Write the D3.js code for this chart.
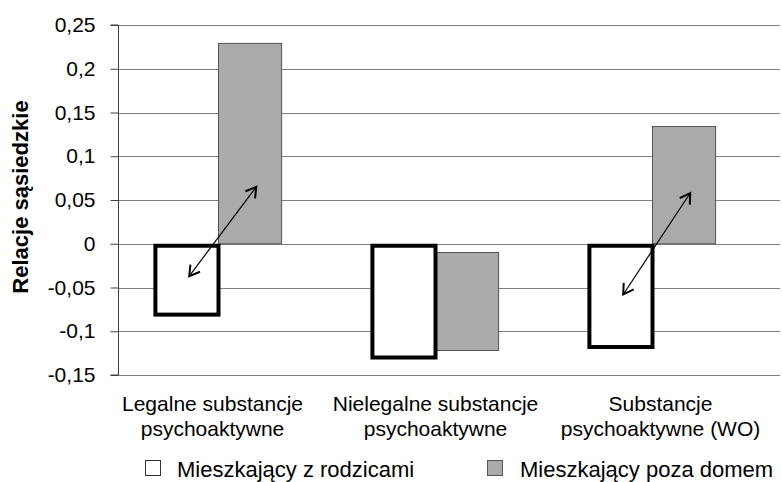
<!DOCTYPE html>
<html>
<head>
<meta charset="utf-8">
<script src="https://cdn.jsdelivr.net/npm/d3@7"></script>
<style>
  body { margin: 0; background: #fff; }
  svg { display: block; font-family: Arial, "Liberation Sans", sans-serif; }
</style>
</head>
<body>
<svg id="chart" width="782" height="482"></svg>
<script>
const categories = [
  ["Legalne substancje", "psychoaktywne"],
  ["Nielegalne substancje", "psychoaktywne"],
  ["Substancje", "psychoaktywne (WO)"]
];
const seriesNames = ["Mieszkający z rodzicami", "Mieszkający poza domem"];
const withParents = [-0.081, -0.130, -0.118];
const awayBase = [0, -0.01, 0];
const awayValues = [0.229, -0.122, 0.134];
const yTicks = [-0.15, -0.1, -0.05, 0, 0.05, 0.1, 0.15, 0.2, 0.25];
const yTickLabels = ["-0,15", "-0,1", "-0,05", "0", "0,05", "0,1", "0,15", "0,2", "0,25"];
const arrows = [
  { cat: 0, from: -0.037, to: 0.065 },
  { cat: 2, from: -0.058, to: 0.058 }
];

const svg = d3.select("#chart");
const axisX = 118, plotRight = 780;

const y = d3.scaleLinear().domain([-0.15, 0.25]).range([375, 25]);
const x0 = d3.scaleBand().domain(d3.range(categories.length)).range([110, 761])
  .paddingInner(0.4).paddingOuter(0.2);
const x1 = d3.scaleBand().domain(["w", "g"]).range([0, x0.bandwidth()]).padding(0);

// gridlines
svg.append("g").selectAll("line").data(yTicks).join("line")
  .attr("x1", axisX).attr("x2", plotRight)
  .attr("y1", d => Math.round(y(d)) + 0.5).attr("y2", d => Math.round(y(d)) + 0.5)
  .attr("stroke", "#808080").attr("stroke-width", 1);

// y axis
const yAxis = d3.axisLeft(y).tickValues(yTicks).tickSize(8)
  .tickFormat((d, i) => yTickLabels[i]);
const gy = svg.append("g").attr("transform", `translate(${axisX + 0.5},0)`).call(yAxis);
gy.select(".domain").attr("stroke", "#404040").attr("d", `M-8,${y(0.25)}H0V${y(-0.15)}H-8`);
gy.selectAll(".tick line").attr("stroke", "#404040");
gy.selectAll(".tick text").attr("x", -23).attr("font-size", 21)
  .attr("font-family", "Arial, 'Liberation Sans', sans-serif").attr("fill", "#000");

// axis title
svg.append("text")
  .attr("transform", `translate(28,197) rotate(-90)`)
  .attr("text-anchor", "middle")
  .attr("font-size", 22).attr("font-weight", "bold")
  .text("Relacje sąsiedzkie");

// gray bars
svg.append("g").selectAll("rect").data(awayValues).join("rect")
  .attr("x", (d, i) => x0(i) + x1("g"))
  .attr("width", x1.bandwidth() - 2)
  .attr("y", (d, i) => y(Math.max(d, awayBase[i])))
  .attr("height", (d, i) => Math.abs(y(d) - y(awayBase[i])))
  .attr("fill", "#aaaaaa").attr("stroke", "#555").attr("stroke-width", 1);

// white bars
svg.append("g").selectAll("rect").data(withParents).join("rect")
  .attr("x", (d, i) => x0(i) + x1("w") + 2)
  .attr("width", x1.bandwidth() - 2)
  .attr("y", d => y(Math.max(d, 0)) + 2)
  .attr("height", d => Math.abs(y(d) - y(0)) - 2)
  .attr("fill", "#fff").attr("stroke", "#000").attr("stroke-width", 4);

// arrows
const defs = svg.append("defs");
["start", "end"].forEach(k => {
  defs.append("marker").attr("id", "arr-" + k)
    .attr("viewBox", "-12 -7 14 14").attr("refX", 0).attr("refY", 0)
    .attr("markerWidth", 14).attr("markerHeight", 14).attr("markerUnits", "userSpaceOnUse")
    .attr("orient", "auto-start-reverse")
    .append("path").attr("d", "M-10,-6L0,0L-10,6")
    .attr("fill", "none").attr("stroke", "#000").attr("stroke-width", 2);
});
svg.append("g").selectAll("line").data(arrows).join("line")
  .attr("x1", d => x0(d.cat) + x1("w") + x1.bandwidth() * 0.55)
  .attr("y1", d => y(d.from))
  .attr("x2", d => x0(d.cat) + x1("g") + x1.bandwidth() * 0.58)
  .attr("y2", d => y(d.to))
  .attr("stroke", "#000").attr("stroke-width", 1.2)
  .attr("marker-start", "url(#arr-start)").attr("marker-end", "url(#arr-end)");

// category labels
const catG = svg.append("g").selectAll("text").data(categories).join("text")
  .attr("text-anchor", "middle").attr("font-size", 21)
  .attr("transform", (d, i) => `translate(${x0(i) + x0.bandwidth() / 2 + (i === 0 ? -6 : i === 2 ? 8 : 0)},411)`);
catG.selectAll("tspan").data(d => d).join("tspan")
  .attr("x", 0).attr("dy", (d, j) => j === 0 ? 0 : 25).text(d => d);

// legend
const legendX = [145, 487];
const legendFill = ["#fff", "#aaaaaa"];
const legendStroke = ["#333", "#555"];
const lg = svg.append("g").selectAll("g").data(seriesNames).join("g")
  .attr("transform", (d, i) => `translate(${legendX[i]},460)`);
lg.append("rect").attr("x", 0.5).attr("y", 0.5).attr("width", 15).attr("height", 15)
  .attr("fill", (d, i) => legendFill[i]).attr("stroke", (d, i) => legendStroke[i]);
lg.append("text").attr("x", (d, i) => i === 0 ? 32 : 33).attr("y", 16.5)
  .attr("font-size", 22).text(d => d);
</script>
</body>
</html>
